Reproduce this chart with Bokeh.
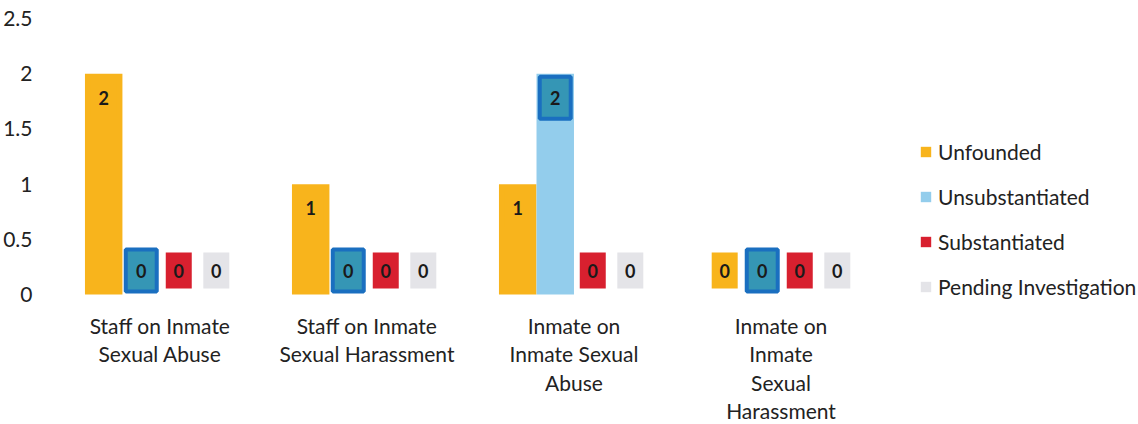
from bokeh.plotting import figure
from bokeh.models import Range1d, FixedTicker, Legend, LegendItem, ColumnDataSource
from bokeh.core.properties import value
from bokeh.embed import file_html
from bokeh.resources import INLINE

# ---- data ----
categories = ["Staff on Inmate\nSexual Abuse",
              "Staff on Inmate\nSexual Harassment",
              "Inmate on\nInmate Sexual\nAbuse",
              "Inmate on\nInmate\nSexual\nHarassment"]
series = ["Unfounded", "Unsubstantiated", "Substantiated", "Pending Investigation"]
unfounded = [2, 1, 1, 0]
unsubstantiated = [0, 0, 2, 0]
substantiated = [0, 0, 0, 0]
pending = [0, 0, 0, 0]
y_ticks = [0, 0.5, 1, 1.5, 2, 2.5]
y_tick_labels = ["0", "0.5", "1", "1.5", "2", "2.5"]

values = [unfounded, unsubstantiated, substantiated, pending]
bar_colors = ["#f8b41c", "#93cdec", "#d8202f", "#e4e4e8"]
box_colors = ["#f8b41c", "#3596b5", "#d8202f", "#e4e4e8"]
box_lines = [None, "#1a6fc0", None, None]
offsets = [-0.272, -0.0906, 0.0906, 0.272]
bar_w = 0.181
FONT = "Lato"

px_per_unit = 110.5
lab_off = 24 / px_per_unit

p = figure(frame_width=828, frame_height=404, output_backend="svg",
           toolbar_location=None, x_range=Range1d(-0.5, 3.5),
           y_range=Range1d(-128 / px_per_unit, 2.5),
           min_border_left=50, min_border_right=244, min_border_top=18,
           min_border_bottom=0)
p.outline_line_color = None
p.xgrid.visible = False
p.ygrid.visible = False
p.xaxis.visible = False
p.background_fill_color = "white"

yax = p.yaxis[0]
yax.ticker = FixedTicker(ticks=y_ticks)
yax.major_label_overrides = {t: l for t, l in zip(y_ticks, y_tick_labels)}
yax.axis_line_color = None
yax.major_tick_line_color = None
yax.minor_tick_line_color = None
yax.major_label_standoff = 18
yax.major_label_text_font = FONT
yax.major_label_text_font_size = "21px"
yax.major_label_text_color = "#222222"

items = []
for i, (name, vals) in enumerate(zip(series, values)):
    xs = [g + offsets[i] for g in range(len(categories))]
    src = ColumnDataSource(dict(x=xs, top=vals,
                                ly=[v - lab_off if v > 0 else lab_off for v in vals],
                                txt=[str(v) for v in vals]))
    r = p.vbar(x="x", top="top", bottom=0, width=bar_w, source=src,
               fill_color=bar_colors[i], line_color=None)
    items.append(LegendItem(label=name, renderers=[r]))
    if box_lines[i]:
        p.rect(x="x", y="ly", width=31, height=42, width_units="screen",
               height_units="screen", source=src, fill_color=box_colors[i],
               line_color=box_lines[i], line_width=4)
    else:
        p.rect(x="x", y="ly", width=26, height=36, width_units="screen",
               height_units="screen", source=src, fill_color=box_colors[i],
               line_color=None)
    p.text(x="x", y="ly", text="txt", source=src, text_align="center",
           text_baseline="middle", text_font=value(FONT),
           text_font_size="18px", text_font_style="bold", text_color="#1a1a1a")

# category labels
csrc = ColumnDataSource(dict(x=list(range(len(categories))),
                             y=[-18 / px_per_unit] * len(categories),
                             t=categories))
p.text(x="x", y="y", text="t", source=csrc, text_align="center",
       text_baseline="top", text_font=value(FONT), text_font_size="21px",
       text_line_height=1.14, text_color="#222222")

legend = Legend(items=items, location=(35, 123), padding=0, margin=0,
                spacing=20, label_height=20, glyph_width=13, glyph_height=13,
                label_standoff=6, label_text_font=FONT,
                label_text_font_size="21px", label_text_color="#222222",
                border_line_alpha=0, background_fill_alpha=0)
p.add_layout(legend, "right")

open("out.html", "w").write(file_html(p, INLINE))
